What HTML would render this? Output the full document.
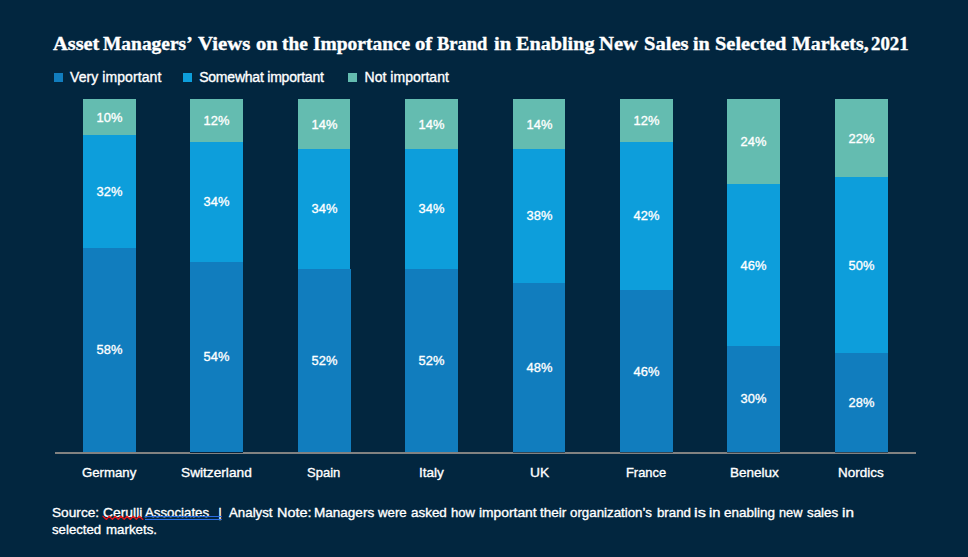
<!DOCTYPE html>
<html><head><meta charset="utf-8"><title>Chart</title>
<style>
html,body{margin:0;padding:0;}
body{width:968px;height:557px;background:#02263f;position:relative;overflow:hidden;font-family:"Liberation Sans",sans-serif;color:#fff;-webkit-text-stroke:0.35px #fff;}
.abs{position:absolute;}
.title{position:absolute;left:0;top:31.5px;font-family:"Liberation Serif",serif;font-weight:bold;font-size:18.6px;line-height:24px;white-space:nowrap;}
.tw{position:absolute;top:0;transform-origin:0 0;display:block;}
.lg{position:absolute;top:73px;width:9px;height:9px;}
.lt{position:absolute;top:68px;font-size:14px;line-height:18px;white-space:nowrap;}
.seg{position:absolute;width:53px;}
.v{position:absolute;width:53px;text-align:center;font-size:13.7px;line-height:16px;height:16px;transform:scaleX(0.94);}
.cw{position:absolute;top:457.6px;font-size:13.33px;line-height:30px;white-space:nowrap;transform-origin:0 0;display:block;}
.fw{position:absolute;font-size:13.5px;line-height:30px;white-space:nowrap;transform-origin:0 0;display:block;}
.axis{position:absolute;left:55px;top:452px;width:861px;height:2px;background:#828281;}
.foot{position:absolute;left:52px;top:504px;font-size:13.33px;line-height:16.7px;white-space:nowrap;}
</style></head><body>
<div class="title"><span class="tw" style="left:52.8px;transform:scaleX(1.095)">Asset</span><span class="tw" style="left:103.4px;transform:scaleX(1.046)">Managers&rsquo;</span><span class="tw" style="left:197.9px;transform:scaleX(1.119)">Views</span><span class="tw" style="left:255.5px;transform:scaleX(1.106)">on</span><span class="tw" style="left:281.9px;transform:scaleX(1.040)">the</span><span class="tw" style="left:312.9px;transform:scaleX(1.046)">Importance</span><span class="tw" style="left:415.1px;transform:scaleX(1.113)">of</span><span class="tw" style="left:437.2px;transform:scaleX(0.994)">Brand</span><span class="tw" style="left:493.5px;transform:scaleX(1.107)">in</span><span class="tw" style="left:515.8px;transform:scaleX(1.085)">Enabling</span><span class="tw" style="left:598.7px;transform:scaleX(1.109)">New</span><span class="tw" style="left:643.6px;transform:scaleX(1.105)">Sales</span><span class="tw" style="left:692.9px;transform:scaleX(1.080)">in</span><span class="tw" style="left:714.6px;transform:scaleX(1.097)">Selected</span><span class="tw" style="left:791.6px;transform:scaleX(1.068)">Markets,</span><span class="tw" style="left:871.4px;transform:scaleX(1.011)">2021</span></div>
<div class="lg" style="left:54px;background:#117dbe"></div><div class="lt" style="left:70px;letter-spacing:0.08px">Very important</div>
<div class="lg" style="left:183px;background:#0d9edb"></div><div class="lt" style="left:199.2px;letter-spacing:-0.22px">Somewhat important</div>
<div class="lg" style="left:348px;background:#64bcb0"></div><div class="lt" style="left:364.6px;letter-spacing:0.02px">Not important</div>

<div class="seg" style="left:83px;top:99px;width:53px;height:36px;background:#64bcb0"></div>
<div class="seg" style="left:83px;top:135px;width:53px;height:113px;background:#0d9edb"></div>
<div class="seg" style="left:83px;top:248px;width:53px;height:204px;background:#117dbe"></div>
<div class="v" style="left:83px;top:110px">10%</div>
<div class="v" style="left:83px;top:184px">32%</div>
<div class="v" style="left:83px;top:342px">58%</div>
<span class="cw" style="left:81.9px;transform:scaleX(0.991)">Germany</span>
<div class="seg" style="left:190px;top:99px;width:53px;height:43px;background:#64bcb0"></div>
<div class="seg" style="left:190px;top:142px;width:53px;height:120px;background:#0d9edb"></div>
<div class="seg" style="left:190px;top:262px;width:53px;height:190px;background:#117dbe"></div>
<div class="v" style="left:190px;top:113px">12%</div>
<div class="v" style="left:190px;top:194px">34%</div>
<div class="v" style="left:190px;top:349px">54%</div>
<span class="cw" style="left:181.4px;transform:scaleX(1.027)">Switzerland</span>
<div class="seg" style="left:298px;top:99px;width:52px;height:50px;background:#64bcb0"></div>
<div class="seg" style="left:298px;top:149px;width:52px;height:120px;background:#0d9edb"></div>
<div class="seg" style="left:298px;top:269px;width:53px;height:183px;background:#117dbe"></div>
<div class="v" style="left:298px;top:117px">14%</div>
<div class="v" style="left:298px;top:201px">34%</div>
<div class="v" style="left:298px;top:353px">52%</div>
<span class="cw" style="left:307.0px;transform:scaleX(0.976)">Spain</span>
<div class="seg" style="left:405px;top:99px;width:53px;height:50px;background:#64bcb0"></div>
<div class="seg" style="left:405px;top:149px;width:53px;height:120px;background:#0d9edb"></div>
<div class="seg" style="left:405px;top:269px;width:53px;height:183px;background:#117dbe"></div>
<div class="v" style="left:405px;top:117px">14%</div>
<div class="v" style="left:405px;top:201px">34%</div>
<div class="v" style="left:405px;top:353px">52%</div>
<span class="cw" style="left:418.6px;transform:scaleX(1.017)">Italy</span>
<div class="seg" style="left:513px;top:99px;width:52px;height:50px;background:#64bcb0"></div>
<div class="seg" style="left:513px;top:149px;width:52px;height:134px;background:#0d9edb"></div>
<div class="seg" style="left:513px;top:283px;width:52px;height:169px;background:#117dbe"></div>
<div class="v" style="left:513px;top:117px">14%</div>
<div class="v" style="left:513px;top:208px">38%</div>
<div class="v" style="left:513px;top:360px">48%</div>
<span class="cw" style="left:529.5px;transform:scaleX(1.035)">UK</span>
<div class="seg" style="left:620px;top:99px;width:53px;height:43px;background:#64bcb0"></div>
<div class="seg" style="left:620px;top:142px;width:53px;height:148px;background:#0d9edb"></div>
<div class="seg" style="left:620px;top:290px;width:53px;height:162px;background:#117dbe"></div>
<div class="v" style="left:620px;top:113px">12%</div>
<div class="v" style="left:620px;top:208px">42%</div>
<div class="v" style="left:620px;top:364px">46%</div>
<span class="cw" style="left:625.6px;transform:scaleX(0.967)">France</span>
<div class="seg" style="left:727px;top:99px;width:53px;height:85px;background:#64bcb0"></div>
<div class="seg" style="left:727px;top:184px;width:53px;height:162px;background:#0d9edb"></div>
<div class="seg" style="left:727px;top:346px;width:53px;height:106px;background:#117dbe"></div>
<div class="v" style="left:727px;top:134px">24%</div>
<div class="v" style="left:727px;top:258px">46%</div>
<div class="v" style="left:727px;top:391px">30%</div>
<span class="cw" style="left:729.6px;transform:scaleX(1.013)">Benelux</span>
<div class="seg" style="left:835px;top:99px;width:53px;height:78px;background:#64bcb0"></div>
<div class="seg" style="left:835px;top:177px;width:53px;height:176px;background:#0d9edb"></div>
<div class="seg" style="left:835px;top:353px;width:53px;height:99px;background:#117dbe"></div>
<div class="v" style="left:835px;top:131px">22%</div>
<div class="v" style="left:835px;top:258px">50%</div>
<div class="v" style="left:835px;top:395px">28%</div>
<span class="cw" style="left:837.6px;transform:scaleX(1.011)">Nordics</span>
<div class="axis"></div>
<div class="abs" style="left:190px;top:452px;width:53px;height:1px;background:rgba(2,30,54,0.95)"></div>
<div class="abs" style="left:513px;top:452px;width:52px;height:1px;background:rgba(2,30,54,0.6)"></div>
<div class="abs" style="left:620px;top:452px;width:53px;height:1px;background:rgba(2,30,54,0.6)"></div>
<div class="abs" style="left:727px;top:452px;width:53px;height:1px;background:rgba(2,30,54,0.6)"></div>
<div class="abs" style="left:835px;top:452px;width:53px;height:1px;background:rgba(2,30,54,0.6)"></div>
<span class="fw" style="left:52.0px;top:498px;transform:scaleX(1.013)">Source:</span>
<span class="fw" style="left:102.6px;top:498px;transform:scaleX(1.027)">Cerulli</span>
<span class="fw" style="left:145.1px;top:498px;transform:scaleX(0.982)">Associates</span>
<span class="fw" style="left:218.2px;top:498px;transform:scaleX(1.000)">|</span>
<span class="fw" style="left:229.3px;top:498px;transform:scaleX(0.984)">Analyst</span>
<span class="fw" style="left:277.3px;top:498px;transform:scaleX(1.067)">Note:</span>
<span class="fw" style="left:313.5px;top:498px;transform:scaleX(1.002)">Managers</span>
<span class="fw" style="left:377.8px;top:498px;transform:scaleX(0.979)">were</span>
<span class="fw" style="left:411.2px;top:498px;transform:scaleX(0.994)">asked</span>
<span class="fw" style="left:450.8px;top:498px;transform:scaleX(0.971)">how</span>
<span class="fw" style="left:479.1px;top:498px;transform:scaleX(1.024)">important</span>
<span class="fw" style="left:540.2px;top:498px;transform:scaleX(1.004)">their</span>
<span class="fw" style="left:570.3px;top:498px;transform:scaleX(0.986)">organization&rsquo;s</span>
<span class="fw" style="left:656.9px;top:498px;transform:scaleX(0.982)">brand</span>
<span class="fw" style="left:693.9px;top:498px;transform:scaleX(1.212)">is</span>
<span class="fw" style="left:708.6px;top:498px;transform:scaleX(1.089)">in</span>
<span class="fw" style="left:723.9px;top:498px;transform:scaleX(0.998)">enabling</span>
<span class="fw" style="left:778.7px;top:498px;transform:scaleX(0.946)">new</span>
<span class="fw" style="left:807.2px;top:498px;transform:scaleX(0.990)">sales</span>
<span class="fw" style="left:842.1px;top:498px;transform:scaleX(1.133)">in</span>
<span class="fw" style="left:52.4px;top:515px;transform:scaleX(0.978)">selected</span>
<span class="fw" style="left:106.1px;top:515px;transform:scaleX(0.986)">markets.</span>
<svg class="abs" style="left:0;top:0" width="968" height="557" viewBox="0 0 968 557"><polyline points="103.0,516.2 106.5,519.4 109.3,516.2 112.4,519.4 115.2,516.2 118.3,519.4 121.1,516.2 124.2,519.4 127.0,516.2 130.4,519.4 133.2,516.2 136.3,519.4 139.4,516.2 142.8,519.4" fill="none" stroke="#e31216" stroke-width="1.35" stroke-linejoin="round" stroke-linecap="round"/><rect x="145" y="516" width="76.8" height="1" fill="#2a6de4"/><rect x="145" y="519" width="76.8" height="1" fill="#2a6de4"/></svg>
</body></html>
